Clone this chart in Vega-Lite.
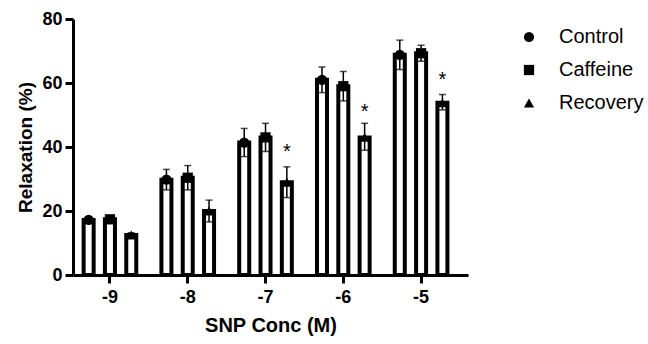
{
  "$schema": "https://vega.github.io/schema/vega-lite/v6.json",
  "autosize": "none",
  "width": 395,
  "height": 256,
  "padding": {"left": 73, "top": 19, "right": 180, "bottom": 69},
  "background": "white",
  "config": {
    "font": "Liberation Sans",
    "view": {"stroke": null},
    "axis": {
      "domainColor": "black", "domainWidth": 3, "tickColor": "black", "tickWidth": 3,
      "tickSize": 8, "grid": false, "labelColor": "black", "titleColor": "black",
      "labelFont": "Liberation Sans", "titleFont": "Liberation Sans",
      "labelFontWeight": "bold", "titleFontWeight": "bold", "labelFontSize": 18, "titleFontSize": 20
    }
  },
  "datasets": {
    "bars": [
      {"conc": "-9", "group": "Control", "mean": 17.2, "lo": 16.6, "hi": 17.8},
      {"conc": "-9", "group": "Caffeine", "mean": 17.4, "lo": 16.8, "hi": 18.0},
      {"conc": "-9", "group": "Recovery", "mean": 12.5, "lo": 12.0, "hi": 13.2},
      {"conc": "-8", "group": "Control", "mean": 29.8, "lo": 26.6, "hi": 33.0},
      {"conc": "-8", "group": "Caffeine", "mean": 30.4, "lo": 26.6, "hi": 34.2},
      {"conc": "-8", "group": "Recovery", "mean": 20.0, "lo": 16.6, "hi": 23.4},
      {"conc": "-7", "group": "Control", "mean": 41.4, "lo": 37.0, "hi": 45.8},
      {"conc": "-7", "group": "Caffeine", "mean": 43.0, "lo": 38.6, "hi": 47.4},
      {"conc": "-7", "group": "Recovery", "mean": 29.0, "lo": 24.2, "hi": 33.8},
      {"conc": "-6", "group": "Control", "mean": 61.0, "lo": 57.0, "hi": 65.0},
      {"conc": "-6", "group": "Caffeine", "mean": 59.0, "lo": 54.4, "hi": 63.6},
      {"conc": "-6", "group": "Recovery", "mean": 43.0, "lo": 39.0, "hi": 47.4},
      {"conc": "-5", "group": "Control", "mean": 68.8, "lo": 64.2, "hi": 73.4},
      {"conc": "-5", "group": "Caffeine", "mean": 69.3, "lo": 66.8, "hi": 71.8},
      {"conc": "-5", "group": "Recovery", "mean": 53.8, "lo": 51.6, "hi": 56.4}
    ],
    "stars": [
      {"conc": "-7", "group": "Recovery", "y": 38.5, "label": "*"},
      {"conc": "-6", "group": "Recovery", "y": 51.0, "label": "*"},
      {"conc": "-5", "group": "Recovery", "y": 61.0, "label": "*"}
    ]
  },
  "encoding": {
    "x": {
      "field": "conc", "type": "nominal", "sort": ["-9", "-8", "-7", "-6", "-5"],
      "scale": {"paddingInner": 0.2, "paddingOuter": 0.139, "align": 0.27},
      "axis": {"title": "SNP Conc (M)", "labelAngle": 0, "labelPadding": 5, "titlePadding": 9}
    },
    "xOffset": {
      "field": "group", "type": "nominal", "sort": ["Control", "Caffeine", "Recovery"],
      "scale": {"paddingInner": 0.53, "paddingOuter": 0.225}
    }
  },
  "layer": [
    {
      "data": {"name": "bars"},
      "mark": {"type": "bar", "fill": "white", "stroke": "black", "strokeWidth": 4},
      "encoding": {
        "y": {
          "field": "mean", "type": "quantitative",
          "scale": {"domain": [0, 80], "nice": false},
          "axis": {"title": "Relaxation (%)", "titleFontSize": 19, "values": [0, 20, 40, 60, 80], "labelPadding": 3, "titlePadding": 6}
        }
      }
    },
    {
      "data": {"name": "bars"},
      "mark": {"type": "rule", "color": "black", "strokeWidth": 1.5},
      "encoding": {"y": {"field": "lo", "type": "quantitative"}, "y2": {"field": "hi"}}
    },
    {
      "data": {"name": "bars"},
      "mark": {"type": "tick", "color": "black", "thickness": 1.5, "size": 7, "orient": "horizontal"},
      "encoding": {"y": {"field": "hi", "type": "quantitative"}}
    },
    {
      "data": {"name": "bars"},
      "mark": {"type": "tick", "color": "black", "thickness": 1.5, "size": 7, "orient": "horizontal"},
      "encoding": {"y": {"field": "lo", "type": "quantitative"}}
    },
    {
      "data": {"name": "bars"},
      "mark": {"type": "point", "filled": true, "color": "black", "opacity": 1, "size": 105},
      "encoding": {
        "y": {"field": "mean", "type": "quantitative"},
        "shape": {
          "field": "group", "type": "nominal",
          "scale": {"domain": ["Control", "Caffeine", "Recovery"], "range": ["circle", "square", "triangle-up"]},
          "legend": {
            "title": null, "orient": "none", "legendX": 446, "legendY": 8,
            "labelFontSize": 20, "labelFont": "Liberation Sans", "labelColor": "black",
            "symbolFillColor": "black", "symbolStrokeColor": "black", "symbolSize": 105,
            "labelOffset": 20, "rowPadding": 13
          }
        }
      }
    },
    {
      "data": {"name": "stars"},
      "mark": {"type": "text", "fontSize": 20, "color": "black", "baseline": "middle"},
      "encoding": {"y": {"field": "y", "type": "quantitative"}, "text": {"field": "label"}}
    }
  ]
}
